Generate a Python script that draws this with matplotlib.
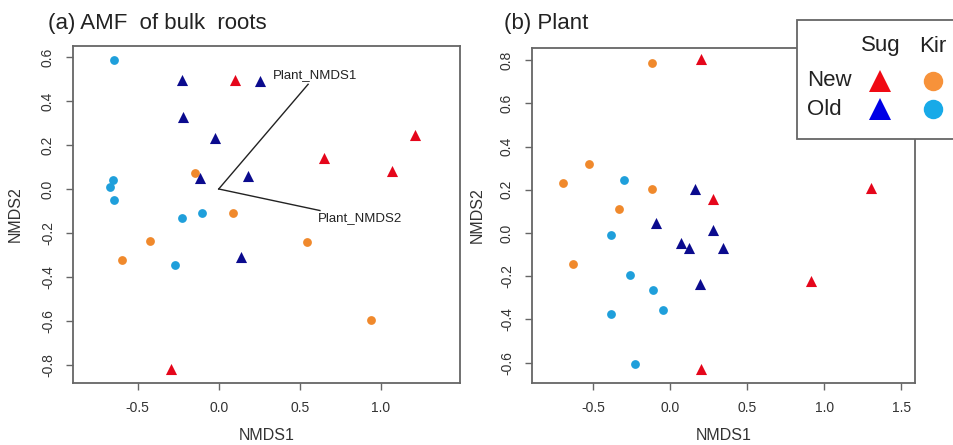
import matplotlib
matplotlib.use("Agg")
import matplotlib.pyplot as plt
from matplotlib.patches import Rectangle

plt.rcParams["font.family"] = ["Liberation Sans", "DejaVu Sans"]

# ── data: panel (a) AMF of bulk roots ───────────────────────────────────────
a_new_sug_x = [0.10, 1.21, 0.648, 1.069, -0.296]
a_new_sug_y = [0.494, 0.246, 0.139, 0.083, -0.817]
a_old_sug_x = [-0.225, 0.254, -0.221, -0.025, -0.115, 0.179, 0.14]
a_old_sug_y = [0.494, 0.491, 0.325, 0.23, 0.048, 0.059, -0.311]
a_new_kir_x = [-0.146, 0.088, -0.427, -0.598, 0.548, 0.94]
a_new_kir_y = [0.071, -0.11, -0.236, -0.322, -0.239, -0.595]
a_old_kir_x = [-0.646, -0.656, -0.671, -0.646, -0.229, -0.102, -0.271]
a_old_kir_y = [0.588, 0.041, 0.011, -0.05, -0.13, -0.11, -0.347]

# fitted vectors (envfit)
vec_names = ["Plant_NMDS1", "Plant_NMDS2"]
vec_x = [0.552, 0.625]
vec_y = [0.476, -0.098]

# ── data: panel (b) Plant ───────────────────────────────────────────────────
b_new_sug_x = [0.199, 0.277, 1.303, 0.913, 0.199]
b_new_sug_y = [0.805, 0.158, 0.206, -0.222, -0.629]
b_old_sug_x = [0.16, -0.093, 0.277, 0.074, 0.126, 0.344, 0.197]
b_old_sug_y = [0.205, 0.046, 0.015, -0.048, -0.071, -0.071, -0.235]
b_new_kir_x = [-0.115, -0.528, -0.695, -0.117, -0.333, -0.63]
b_new_kir_y = [0.785, 0.32, 0.232, 0.205, 0.111, -0.142]
b_old_kir_x = [-0.301, -0.385, -0.262, -0.113, -0.045, -0.385, -0.225]
b_old_kir_y = [0.246, -0.009, -0.192, -0.262, -0.358, -0.377, -0.605]

# ── styles ──────────────────────────────────────────────────────────────────
c_red = "#E5061B"
c_navy = "#0B0B8E"
c_orange = "#F0892C"
c_lblue = "#1F9FDB"
frame_col = "#666666"
text_col = "#333333"

W, H = 954, 445
fig = plt.figure(figsize=(W / 100, H / 100), dpi=100)


def px_axes(left, top, right, bottom):
    return fig.add_axes([left / W, 1 - bottom / H, (right - left) / W, (bottom - top) / H])


def style(ax, xlim, ylim, xticks, yticks, ylab_off):
    ax.set_xlim(*xlim)
    ax.set_ylim(*ylim)
    ax.set_xticks(xticks)
    ax.set_yticks(yticks)
    ax.set_xticklabels([f"{t:.1f}" for t in xticks])
    ax.set_yticklabels([f"{t:.1f}" for t in yticks], rotation=90, va="center")
    ax.tick_params(direction="out", length=5, width=1, colors=frame_col,
                   labelcolor=text_col, labelsize=10, pad=8)
    for s in ax.spines.values():
        s.set_color(frame_col)
        s.set_linewidth(1.3)
    ax.set_xlabel("NMDS1", fontsize=11.5, color=text_col)
    ax.set_ylabel("NMDS2", fontsize=11.5, color=text_col)
    ax.xaxis.set_label_coords(0.5, -0.157)
    ax.xaxis.label.set_va("center")
    ax.yaxis.set_label_coords(ylab_off, 0.5)
    ax.yaxis.label.set_va("center")


def points(ax, nsx, nsy, osx, osy, nkx, nky, okx, oky):
    ax.scatter(nkx, nky, marker="o", s=40, color=c_orange, linewidths=0, zorder=3)
    ax.scatter(okx, oky, marker="o", s=40, color=c_lblue, linewidths=0, zorder=3)
    ax.scatter(osx, osy, marker="^", s=64, color=c_navy, linewidths=0, zorder=3)
    ax.scatter(nsx, nsy, marker="^", s=64, color=c_red, linewidths=0, zorder=3)


# ── panel (a) ───────────────────────────────────────────────────────────────
ax1 = px_axes(73, 46, 460, 383)
style(ax1, (-0.90, 1.49), (-0.882, 0.65),
      [-0.5, 0.0, 0.5, 1.0], [-0.8, -0.6, -0.4, -0.2, 0.0, 0.2, 0.4, 0.6], -0.150)
points(ax1, a_new_sug_x, a_new_sug_y, a_old_sug_x, a_old_sug_y,
       a_new_kir_x, a_new_kir_y, a_old_kir_x, a_old_kir_y)
for name, vx, vy in zip(vec_names, vec_x, vec_y):
    ax1.plot([0, vx], [0, vy], color="#222222", lw=1, zorder=2)
ax1.text(0.596, 0.518, vec_names[0], fontsize=9.5,
         ha="center", va="center", color="#222222")
ax1.text(0.87, -0.132, vec_names[1], fontsize=9.5,
         ha="center", va="center", color="#222222")
fig.text(48 / W, 1 - 24 / H, "(a) AMF  of bulk  roots", fontsize=16,
         ha="left", va="center", color="#222222")

# ── panel (b) ───────────────────────────────────────────────────────────────
ax2 = px_axes(532, 48, 915, 383)
style(ax2, (-0.896, 1.59), (-0.694, 0.856),
      [-0.5, 0.0, 0.5, 1.0, 1.5], [-0.6, -0.4, -0.2, 0.0, 0.2, 0.4, 0.6, 0.8], -0.144)
points(ax2, b_new_sug_x, b_new_sug_y, b_old_sug_x, b_old_sug_y,
       b_new_kir_x, b_new_kir_y, b_old_kir_x, b_old_kir_y)
fig.text(504 / W, 1 - 24 / H, "(b) Plant", fontsize=16,
         ha="left", va="center", color="#222222")

# ── legend box (runs off the right edge, as in the original) ────────────────
box = Rectangle((797 / W, 1 - 139 / H), 200 / W, 119 / H, transform=fig.transFigure,
                facecolor="white", edgecolor=frame_col, linewidth=1.3,
                clip_on=False, zorder=10)
fig.add_artist(box)
fig.text(881 / W, 1 - 46 / H, "Sug", fontsize=16, ha="center", va="center", color="#222222", zorder=11)
fig.text(933 / W, 1 - 46 / H, "Kir", fontsize=16, ha="center", va="center", color="#222222", zorder=11)
fig.text(807 / W, 1 - 81 / H, "New", fontsize=16, ha="left", va="center", color="#222222", zorder=11)
fig.text(807 / W, 1 - 109 / H, "Old", fontsize=16, ha="left", va="center", color="#222222", zorder=11)
leg_marks = [(880, 81, "^", "#F00A14"), (933, 81, "o", "#F7923A"),
             (880, 109, "^", "#0000E6"), (933, 109, "o", "#18AAE8")]
for mx, my, mk, mc in leg_marks:
    fig.add_artist(plt.Line2D([mx / W], [1 - my / H], marker=mk, markersize=16 if mk == "^" else 14,
                              color=mc, markeredgewidth=0, linestyle="none",
                              transform=fig.transFigure, zorder=11))

fig.savefig("out.png", dpi=100)
